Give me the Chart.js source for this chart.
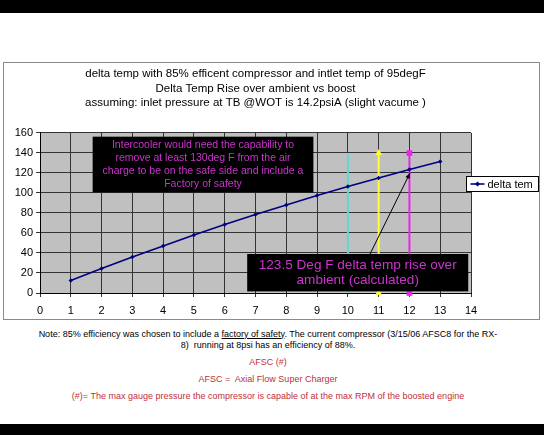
<!DOCTYPE html>
<html>
<head>
<meta charset="utf-8">
<script src="https://cdn.jsdelivr.net/npm/chart.js@4"></script>
<style>
  html, body { margin: 0; padding: 0; background: #fff; }
  #page { position: relative; width: 544px; height: 435px; overflow: hidden; background: #fff;
          font-family: Arial, "Liberation Sans", sans-serif; }
  .band { position: absolute; left: 0; width: 544px; background: #000; }
  #frame { position: absolute; left: 3px; top: 62px; width: 537px; height: 258px;
           box-sizing: border-box; border: 1px solid #8a8a8a; }
  #chartBox { position: absolute; left: 4px; top: 63px; width: 535px; height: 256px; }
  .note { position: absolute; left: 0; width: 536px; text-align: center; font-size: 9px; line-height: 11px; }
  .red { color: #c0303a; }
</style>
</head>
<body>
<div id="page">
  <div class="band" style="top:0;height:13px"></div>
  <div id="frame"></div>
  <div id="chartBox"><canvas id="c"></canvas></div>
  <div class="note" style="top:328.5px;color:#000">Note: 85% efficiency was chosen to include a <u>factory of safety</u>. The current compressor (3/15/06 AFSC8 for the RX-<br>8)&nbsp; running at 8psi has an efficiency of 88%.</div>
  <div class="note red" style="top:356.5px">AFSC (#)</div>
  <div class="note red" style="top:373.5px">AFSC =&nbsp; Axial Flow Super Charger</div>
  <div class="note red" style="top:390.5px">(#)= The max gauge pressure the compressor is capable of at the max RPM of the boosted engine</div>
  <div class="band" style="top:424px;height:11px"></div>
</div>
<script>
// ---- data ----
const boost = [1, 2, 3, 4, 5, 6, 7, 8, 9, 10, 11, 12, 13];
const deltaTemp = [12.5, 24.5, 36, 47, 58, 68.5, 78.5, 88, 97.5, 106.5, 115, 123.5, 131.5];
const seriesLabel = 'delta tem';
const markerBoost = [10, 11, 12];
const markerRange = [0, 140];
const titleLines = [
  'delta temp with 85% efficent compressor and intlet temp of 95degF',
  'Delta Temp Rise over ambient vs boost',
  'assuming: inlet pressure at TB @WOT is 14.2psiA (slight vacume )'
];
const note1Lines = [
  'Intercooler would need the capability to',
  'remove at least 130deg F from the air',
  'charge to be on the safe side and include a',
  'Factory of safety'
];
const note2Lines = [
  '123.5 Deg F delta temp rise over',
  'ambient (calculated)'
];

const FONT = 'Arial, "Liberation Sans", sans-serif';
const markerColors = ['#5fd8d8', '#ffff33', '#ee22ee'];
const markerStyles = [false, 'triangle', 'rect'];
const markerRadii = [0, 4, 4];

const datasets = [{
  label: seriesLabel,
  data: boost.map((x, i) => ({ x: x, y: deltaTemp[i] })),
  showLine: true,
  borderColor: '#000080',
  backgroundColor: '#000080',
  borderWidth: 1.6,
  pointStyle: 'rectRot',
  pointRadius: 2.2,
  pointBorderWidth: 0,
  clip: false
}];
markerBoost.forEach((b, i) => {
  datasets.push({
    label: 'boost ' + b,
    data: markerRange.map(v => ({ x: b, y: v })),
    showLine: true,
    borderColor: markerColors[i],
    backgroundColor: markerColors[i],
    borderWidth: 2,
    pointStyle: markerStyles[i] || 'circle',
    pointRadius: markerRadii[i],
    pointBorderWidth: 0,
    clip: false
  });
});

const decor = {
  id: 'decor',
  beforeDraw(chart) {
    const a = chart.chartArea, ctx = chart.ctx;
    ctx.save();
    ctx.fillStyle = '#c0c0c0';
    ctx.fillRect(a.left, a.top, a.right - a.left, a.bottom - a.top);
    ctx.restore();
  },
  afterDatasetsDraw(chart) {
    const ctx = chart.ctx, xs = chart.scales.x, ys = chart.scales.y;
    const box = (x0, x1, y0, y1, lines, size, lh) => {
      const L = xs.getPixelForValue(x0), R = xs.getPixelForValue(x1);
      const T = ys.getPixelForValue(y1), B = ys.getPixelForValue(y0);
      ctx.fillStyle = '#000';
      ctx.fillRect(L, T, R - L, B - T);
      ctx.fillStyle = '#cc33cc';
      ctx.font = size + 'px ' + FONT;
      ctx.textAlign = 'center';
      ctx.textBaseline = 'middle';
      const cx = (L + R) / 2, cy = (T + B) / 2;
      lines.forEach((t, i) => ctx.fillText(t, cx, cy + (i - (lines.length - 1) / 2) * lh));
    };
    ctx.save();
    box(1.71, 8.88, 100.6, 156.3, note1Lines, 10.5, 12.8);
    box(6.73, 13.91, 1.6, 39, note2Lines, 13.6, 15);
    // arrow
    const x0 = xs.getPixelForValue(10.72), y0 = ys.getPixelForValue(39);
    const x1 = xs.getPixelForValue(12.02), y1 = ys.getPixelForValue(120);
    ctx.strokeStyle = '#000'; ctx.lineWidth = 1;
    ctx.beginPath(); ctx.moveTo(x0, y0); ctx.lineTo(x1, y1); ctx.stroke();
    const ang = Math.atan2(y1 - y0, x1 - x0);
    ctx.fillStyle = '#000';
    ctx.beginPath();
    ctx.moveTo(x1, y1);
    ctx.lineTo(x1 - 6 * Math.cos(ang - 0.4), y1 - 6 * Math.sin(ang - 0.4));
    ctx.lineTo(x1 - 6 * Math.cos(ang + 0.4), y1 - 6 * Math.sin(ang + 0.4));
    ctx.closePath(); ctx.fill();
    ctx.restore();
  },
  afterDraw(chart) {
    const ctx = chart.ctx;
    const ds = chart.data.datasets[0];
    const L = 462.5, T = 113.5, W = 72, H = 15;
    ctx.save();
    ctx.fillStyle = '#fff';
    ctx.fillRect(L, T, W, H);
    ctx.strokeStyle = '#000'; ctx.lineWidth = 1;
    ctx.strokeRect(L, T, W, H);
    const cy = T + H / 2;
    ctx.strokeStyle = ds.borderColor; ctx.lineWidth = 1.6;
    ctx.beginPath(); ctx.moveTo(L + 4, cy); ctx.lineTo(L + 18, cy); ctx.stroke();
    ctx.fillStyle = ds.borderColor;
    ctx.beginPath();
    ctx.moveTo(L + 11, cy - 2.5); ctx.lineTo(L + 13.5, cy); ctx.lineTo(L + 11, cy + 2.5); ctx.lineTo(L + 8.5, cy);
    ctx.closePath(); ctx.fill();
    ctx.fillStyle = '#000';
    ctx.font = '11px ' + FONT;
    ctx.textAlign = 'left'; ctx.textBaseline = 'middle';
    ctx.fillText(ds.label, L + 21, cy + 0.5);
    ctx.restore();
  }
};

new Chart(document.getElementById('c'), {
  type: 'scatter',
  data: { datasets: datasets },
  options: {
    responsive: true,
    maintainAspectRatio: false,
    animation: false,
    events: [],
    layout: { padding: { left: 0, right: 68, top: 0, bottom: 0 } },
    plugins: {
      legend: { display: false },
      tooltip: { enabled: false },
      title: {
        display: true,
        text: titleLines,
        fullSize: false,
        color: '#000',
        font: { family: FONT, size: 11.5, weight: 'normal', lineHeight: 1.26 },
        padding: { top: 4, bottom: 22.5 }
      }
    },
    scales: {
      x: {
        type: 'linear', min: 0, max: 14,
        afterFit(s) { s.height = 26; },
        ticks: { stepSize: 1, color: '#000', font: { family: FONT, size: 11 }, padding: 7, maxRotation: 0 },
        grid: { color: '#333', lineWidth: 1, tickLength: 4, drawTicks: true },
        border: { color: '#000', width: 1 }
      },
      y: {
        min: 0, max: 160,
        afterFit(s) { s.width = 36; },
        ticks: { stepSize: 20, color: '#000', font: { family: FONT, size: 11 }, padding: 3 },
        grid: { color: '#333', lineWidth: 1, tickLength: 4, drawTicks: true },
        border: { color: '#000', width: 1 }
      }
    }
  },
  plugins: [decor]
});
</script>
</body>
</html>
